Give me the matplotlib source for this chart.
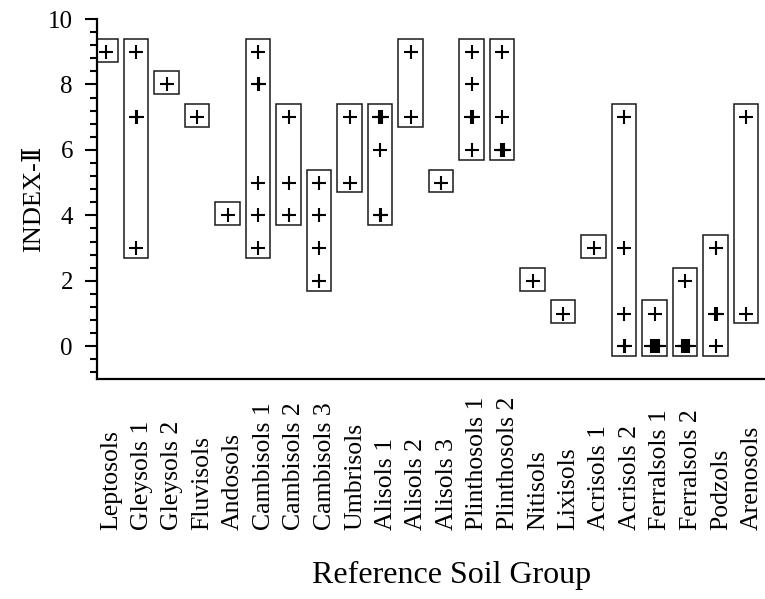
import matplotlib
matplotlib.use('Agg')
import matplotlib.pyplot as plt
from matplotlib.patches import Rectangle
from matplotlib.ticker import MultipleLocator

plt.rcParams['font.family'] = ['Liberation Serif', 'DejaVu Serif']

groups = ['Leptosols', 'Gleysols 1', 'Gleysols 2', 'Fluvisols', 'Andosols',
          'Cambisols 1', 'Cambisols 2', 'Cambisols 3', 'Umbrisols', 'Alisols 1',
          'Alisols 2', 'Alisols 3', 'Plinthosols 1', 'Plinthosols 2', 'Nitisols',
          'Lixisols', 'Acrisols 1', 'Acrisols 2', 'Ferralsols 1', 'Ferralsols 2',
          'Podzols', 'Arenosols']

# INDEX-II values per group (repeats = overlapping samples)
values = [
    [9],
    [9, 7, 7, 3],
    [8],
    [7],
    [4],
    [9, 8, 8, 5, 4, 3],
    [7, 5, 4],
    [5, 4, 3, 2],
    [7, 5],
    [7, 7, 7, 6, 4, 4],
    [9, 7],
    [5],
    [9, 8, 7, 7, 6],
    [9, 7, 6, 6, 6],
    [2],
    [1],
    [3],
    [7, 3, 1, 0, 0],
    [1, 0, 0, 0, 0, 0],
    [2, 0, 0, 0, 0, 0],
    [3, 1, 1, 0],
    [7, 1],
]

fig = plt.figure(figsize=(7.65, 5.99), dpi=100)
ax = fig.add_axes([96.5 / 765, 1 - 379 / 599, (765 - 96.5) / 765, 360 / 599])

for i, vals in enumerate(values):
    lo, hi = min(vals), max(vals)
    ax.add_patch(Rectangle((i - 0.42, lo - 0.3), 0.81, hi - lo + 0.7,
                           fill=False, edgecolor='#1a1a1a', lw=1.1))
    # spread repeated values a little so they show up as a thicker cross
    for v in sorted(set(vals)):
        n = vals.count(v)
        for k in range(n):
            dx = (k - (n - 1) / 2) * 0.06
            ax.plot(i + dx, v, marker='+', ms=9.5, mew=1.5, color='black',
                    linestyle='none')

ax.set_xlim(-0.31, (765 - 106) / 30.5)
ax.set_ylim(-1, 10)

for s in ['top', 'right']:
    ax.spines[s].set_visible(False)
for s in ['left', 'bottom']:
    ax.spines[s].set_linewidth(1.6)

ax.set_xticks([])
ax.set_yticks([0, 2, 4, 6, 8, 10])
ax.yaxis.set_minor_locator(MultipleLocator(0.4))
ax.tick_params(axis='y', which='major', length=9, width=1.5, labelsize=18, pad=8)
ax.tick_params(axis='y', which='minor', length=5, width=1.5)

for i, name in enumerate(groups):
    ax.text(i + 0.17, -0.42, name, rotation=90, ha='center', va='bottom',
            fontsize=18.5, transform=ax.get_xaxis_transform())

ax.set_ylabel('INDEX-Ⅱ', fontsize=19, labelpad=2)
fig.text(452 / 765, 1 - 575 / 599, 'Reference Soil Group', ha='center',
         va='center', fontsize=23)

plt.savefig('out.png', dpi=100)
